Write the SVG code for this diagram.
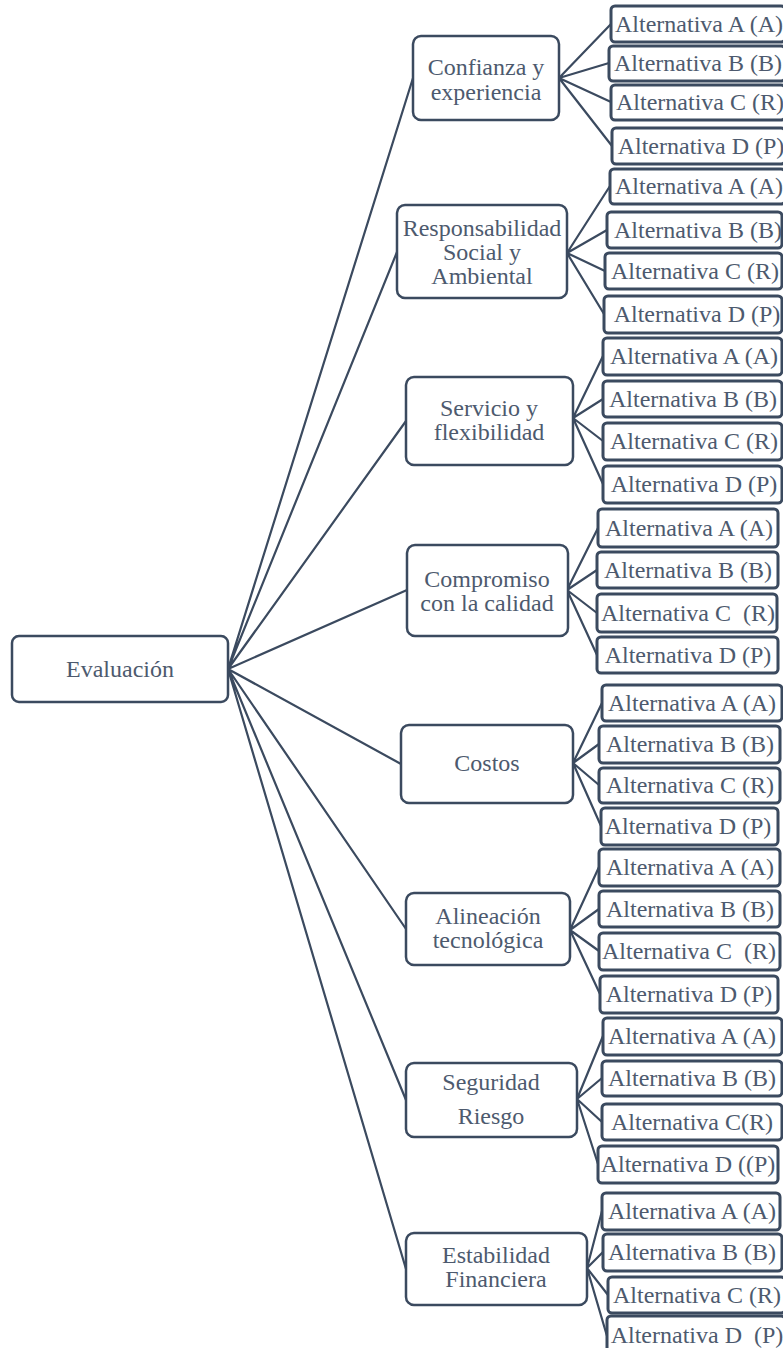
<svg xmlns="http://www.w3.org/2000/svg" width="783" height="1348" viewBox="0 0 783 1348">
<style>
text{font-family:"Liberation Serif","Times New Roman",serif;font-size:24px;fill:#4d5a6e;text-anchor:middle;white-space:pre}
.cat{fill:#fff;stroke:#3b4a5f;stroke-width:2.5}
.leaf{fill:#fff;stroke:#3b4a5f;stroke-width:3}
.ln{stroke:#3b4a5f;stroke-width:2.2;fill:none}
</style>
<rect width="783" height="1348" fill="#fff"/>
<g id="connectors" class="ln">
<path d="M228 669L413 78M228 669L397 252M228 669L406 421M228 669L407 590M228 669L401 764M228 669L406 929M228 669L406 1100M228 669L406 1269"/>
<path d="M559 78L611 24M559 78L609 63M559 78L611 102M559 78L612 146"/>
<path d="M567 253L610 186M567 253L607 230M567 253L605 271M567 253L604 314"/>
<path d="M573 418L603 356M573 418L603 399M573 418L603 441M573 418L603 484"/>
<path d="M567 590L598 528M567 590L597 570M567 590L597 613M567 590L597 655"/>
<path d="M573 763L602 703M573 763L599 744M573 763L599 785M573 763L601 826"/>
<path d="M570 930L599 867M570 930L599 909M570 930L599 951M570 930L600 994"/>
<path d="M577 1099L603 1036M577 1099L602 1078M577 1099L602 1122M577 1099L598 1164"/>
<path d="M587 1268L602 1211M587 1268L603 1252M587 1268L608 1295M587 1268L607 1336"/>
</g>
<g id="root"><rect class="cat" x="12" y="636" width="216" height="66" rx="7"/><text x="120" y="677">Evaluación</text></g>
<g id="c1"><rect class="cat" x="413" y="36" width="146" height="84" rx="8"/><text x="486" y="75">Confianza y</text><text x="486" y="100">experiencia</text></g>
<g id="c2"><rect class="cat" x="397" y="205" width="170" height="93" rx="8"/><text x="482" y="236">Responsabilidad</text><text x="482" y="260">Social y</text><text x="482" y="284">Ambiental</text></g>
<g id="c3"><rect class="cat" x="406" y="377" width="167" height="88" rx="8"/><text x="489" y="416">Servicio y</text><text x="489" y="440">flexibilidad</text></g>
<g id="c4"><rect class="cat" x="407" y="545" width="161" height="91" rx="8"/><text x="487" y="587">Compromiso</text><text x="487" y="611">con la calidad</text></g>
<g id="c5"><rect class="cat" x="401" y="725" width="172" height="78" rx="8"/><text x="487" y="771">Costos</text></g>
<g id="c6"><rect class="cat" x="406" y="893" width="164" height="72" rx="8"/><text x="488" y="924">Alineación</text><text x="488" y="948">tecnológica</text></g>
<g id="c7"><rect class="cat" x="406" y="1063" width="171" height="74" rx="8"/><text x="491" y="1090">Seguridad</text><text x="491" y="1124">Riesgo</text></g>
<g id="c8"><rect class="cat" x="406" y="1233" width="181" height="72" rx="8"/><text x="496" y="1263">Estabilidad</text><text x="496" y="1287">Financiera</text></g>
<g id="g1a"><rect class="leaf" x="611" y="6" width="174" height="36" rx="4"/><text x="699" y="32">Alternativa A (A)</text></g>
<g id="g1b"><rect class="leaf" x="609" y="46" width="176" height="35" rx="4"/><text x="698" y="71">Alternativa B (B)</text></g>
<g id="g1c"><rect class="leaf" x="611" y="85" width="174" height="35" rx="4"/><text x="700" y="110">Alternativa C (R)</text></g>
<g id="g1d"><rect class="leaf" x="612" y="128" width="173" height="36" rx="4"/><text x="701" y="154">Alternativa D (P)</text></g>
<g id="g2a"><rect class="leaf" x="610" y="169" width="175" height="35" rx="4"/><text x="699" y="194">Alternativa A (A)</text></g>
<g id="g2b"><rect class="leaf" x="607" y="212" width="175" height="36" rx="4"/><text x="698" y="238">Alternativa B (B)</text></g>
<g id="g2c"><rect class="leaf" x="605" y="253" width="177" height="36" rx="4"/><text x="695" y="279">Alternativa C (R)</text></g>
<g id="g2d"><rect class="leaf" x="604" y="296" width="178" height="37" rx="4"/><text x="697" y="322">Alternativa D (P)</text></g>
<g id="g3a"><rect class="leaf" x="603" y="338" width="179" height="37" rx="4"/><text x="694" y="364">Alternativa A (A)</text></g>
<g id="g3b"><rect class="leaf" x="603" y="381" width="179" height="36" rx="4"/><text x="693" y="407">Alternativa B (B)</text></g>
<g id="g3c"><rect class="leaf" x="603" y="423" width="179" height="37" rx="4"/><text x="694" y="449">Alternativa C (R)</text></g>
<g id="g3d"><rect class="leaf" x="603" y="466" width="179" height="37" rx="4"/><text x="694" y="492">Alternativa D (P)</text></g>
<g id="g4a"><rect class="leaf" x="598" y="509" width="180" height="38" rx="4"/><text x="689" y="536">Alternativa A (A)</text></g>
<g id="g4b"><rect class="leaf" x="597" y="552" width="181" height="36" rx="4"/><text x="688" y="578">Alternativa B (B)</text></g>
<g id="g4c"><rect class="leaf" x="597" y="594" width="180" height="38" rx="4"/><text x="688" y="621">Alternativa C  (R)</text></g>
<g id="g4d"><rect class="leaf" x="597" y="637" width="181" height="36" rx="4"/><text x="688" y="663">Alternativa D (P)</text></g>
<g id="g5a"><rect class="leaf" x="602" y="685" width="180" height="36" rx="4"/><text x="692" y="711">Alternativa A (A)</text></g>
<g id="g5b"><rect class="leaf" x="599" y="726" width="181" height="37" rx="4"/><text x="690" y="752">Alternativa B (B)</text></g>
<g id="g5c"><rect class="leaf" x="599" y="768" width="181" height="35" rx="4"/><text x="690" y="793">Alternativa C (R)</text></g>
<g id="g5d"><rect class="leaf" x="601" y="808" width="177" height="37" rx="4"/><text x="688" y="834">Alternativa D (P)</text></g>
<g id="g6a"><rect class="leaf" x="599" y="849" width="181" height="37" rx="4"/><text x="690" y="875">Alternativa A (A)</text></g>
<g id="g6b"><rect class="leaf" x="599" y="891" width="181" height="36" rx="4"/><text x="690" y="917">Alternativa B (B)</text></g>
<g id="g6c"><rect class="leaf" x="599" y="933" width="181" height="37" rx="4"/><text x="689" y="959">Alternativa C  (R)</text></g>
<g id="g6d"><rect class="leaf" x="600" y="976" width="178" height="37" rx="4"/><text x="689" y="1002">Alternativa D (P)</text></g>
<g id="g7a"><rect class="leaf" x="603" y="1018" width="179" height="37" rx="4"/><text x="692" y="1044">Alternativa A (A)</text></g>
<g id="g7b"><rect class="leaf" x="602" y="1061" width="180" height="35" rx="4"/><text x="692" y="1086">Alternativa B (B)</text></g>
<g id="g7c"><rect class="leaf" x="602" y="1104" width="180" height="36" rx="4"/><text x="692" y="1130">Alternativa C(R)</text></g>
<g id="g7d"><rect class="leaf" x="598" y="1146" width="180" height="37" rx="4"/><text x="688" y="1172">Alternativa D ((P)</text></g>
<g id="g8a"><rect class="leaf" x="602" y="1193" width="178" height="37" rx="4"/><text x="692" y="1219">Alternativa A (A)</text></g>
<g id="g8b"><rect class="leaf" x="603" y="1234" width="179" height="37" rx="4"/><text x="692" y="1260">Alternativa B (B)</text></g>
<g id="g8c"><rect class="leaf" x="608" y="1277" width="177" height="36" rx="4"/><text x="697" y="1303">Alternativa C (R)</text></g>
<g id="g8d"><rect class="leaf" x="607" y="1316" width="178" height="40" rx="4"/><text x="697" y="1343">Alternativa D  (P)</text></g>
</svg>
